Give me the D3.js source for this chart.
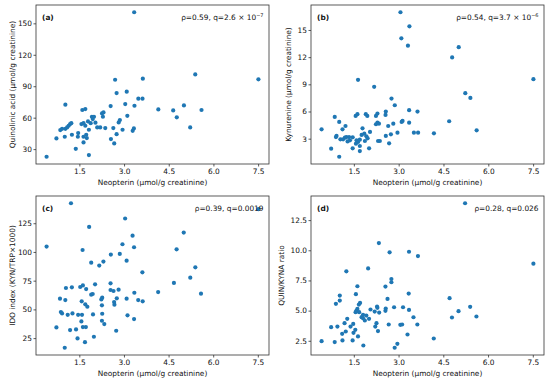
<!DOCTYPE html>
<html>
<head>
<meta charset="utf-8">
<script src="https://cdn.jsdelivr.net/npm/d3@7"></script>
<style>
  body { margin: 0; background: #fff; }
  text { font-family: "DejaVu Sans", sans-serif; }
</style>
</head>
<body>
<svg id="chart" width="550" height="383"></svg>
<script>
// neopterin vs. the four kynurenine-pathway measures
const neoA = [2.70,2.75,3.63,3.09,3.48,3.62,1.03,2.55,3.04,3.35,4.15,4.65,1.60,1.70,2.26,2.31,1.92,1.99,2.29,3.11,
  1.95,1.79,1.57,1.64,1.70,1.88,2.04,2.10,2.20,2.37,2.82,2.86,2.64,2.95,3.29,3.33,2.75,2.56,2.67,0.86,
  0.92,1.03,1.09,1.14,1.19,1.23,1.01,1.25,1.46,1.45,1.64,1.73,1.64,1.38,1.82,0.73,0.40,3.34,7.51,5.39,
  5.01,5.60,4.77,5.22,1.82,1.75];
const quinA = [96.2,83.5,97.2,84.8,78.1,78.1,72.4,71.1,73.0,71.4,67.9,66.9,67.3,68.2,64.1,65.0,60.9,60.9,60.9,61.8,
  58.7,56.4,53.9,54.8,52.3,54.8,55.2,50.7,50.7,50.1,55.5,57.7,50.1,48.5,47.5,49.7,44.3,39.6,35.4,48.2,
  49.4,49.4,50.7,52.3,53.9,54.8,41.8,43.7,45.3,41.8,41.8,43.7,36.4,30.3,24.3,40.2,22.7,160.6,96.6,101.3,
  71.7,67.3,60.3,50.7,48.5,40.5];

const neoB = [1.64,2.18,2.76,2.87,3.35,3.63,0.86,1.56,1.62,1.90,1.95,2.24,2.29,2.57,2.56,1.01,1.22,1.12,0.42,2.29,
  2.24,2.34,2.65,2.82,3.13,3.10,3.35,1.79,2.04,0.92,0.90,1.05,1.14,1.20,1.25,1.34,1.46,1.37,1.29,1.59,
  1.57,1.64,1.70,1.76,1.85,1.92,1.96,1.87,1.70,1.70,1.46,2.01,0.74,1.01,2.31,2.37,2.57,2.74,2.68,2.96,
  3.51,3.65,4.18,4.69,3.06,3.09,3.36,3.31,5.01,4.79,7.51,5.23,5.40,5.61];
const kynB = [9.50,8.72,7.43,6.69,6.14,5.99,5.40,5.51,5.70,5.70,5.51,5.51,5.77,5.99,5.62,4.85,4.40,4.03,4.03,4.77,
  4.59,4.66,4.40,4.66,4.96,4.85,4.77,4.14,3.74,3.30,3.18,2.93,2.93,3.11,3.18,3.18,3.15,2.82,2.70,2.82,
  2.45,2.63,2.89,3.41,3.55,3.26,3.04,2.74,2.19,1.63,1.93,1.93,1.89,1.00,2.74,2.74,3.30,3.48,2.48,3.66,
  3.66,3.66,3.59,4.92,16.96,14.08,15.40,13.27,13.10,11.97,9.57,8.02,7.50,3.92];

const neoC = [1.22,3.04,1.83,0.40,3.29,2.95,3.34,1.61,2.56,2.86,3.09,1.90,2.31,2.17,3.62,1.05,1.25,1.53,1.62,1.73,
  2.03,1.90,1.95,2.55,2.55,2.65,2.82,3.35,4.15,2.76,2.24,2.27,3.09,3.48,3.63,2.67,2.68,0.85,1.03,1.58,
  1.70,1.77,2.26,0.88,0.92,1.11,1.27,1.46,1.59,1.96,2.27,1.57,2.26,2.34,3.12,3.34,0.73,1.19,1.39,1.62,
  1.72,2.74,1.44,1.69,1.99,1.01,5.01,4.77,4.68,5.23,5.40,5.59,7.52];
const idoC = [142.4,129.1,121.8,104.7,114.2,106.7,104.1,101.7,97.7,98.3,92.4,90.7,91.6,88.1,82.3,68.6,69.2,69.5,70.9,67.7,
  71.8,62.8,63.4,72.7,66.9,66.0,67.2,64.5,65.1,59.6,58.7,60.2,59.3,58.1,57.0,56.4,54.1,59.3,58.1,57.0,
  54.4,52.3,53.5,47.7,46.5,45.3,46.5,45.3,45.3,45.6,46.2,39.5,40.1,37.2,44.8,41.6,34.3,32.0,32.6,34.6,
  34.6,31.4,24.7,21.5,26.2,16.6,116.9,102.3,73.0,77.6,86.6,63.7,137.2];

const neoD = [2.70,3.35,3.65,1.25,1.98,2.76,2.76,1.62,2.56,1.57,3.34,1.03,1.03,0.90,2.63,1.71,1.67,1.62,1.59,1.56,
  1.68,1.81,1.76,1.92,2.01,1.81,1.87,2.06,2.20,2.28,2.29,2.35,2.57,2.56,2.85,3.15,3.35,3.50,2.26,2.22,
  2.31,2.67,3.06,3.12,3.63,3.30,1.28,1.19,0.95,0.74,1.11,1.23,1.39,1.48,1.55,1.49,1.64,1.12,0.86,0.42,
  1.46,1.82,2.87,2.96,4.18,2.34,5.23,7.52,4.71,5.01,5.40,5.61,4.79];
const ratioD = [9.83,9.88,9.52,8.26,8.50,7.62,7.35,7.02,6.99,6.36,6.41,6.25,5.83,5.56,5.97,5.64,5.50,5.14,5.01,4.87,
  4.87,4.65,4.46,4.59,4.32,4.37,4.18,5.09,4.92,5.34,5.23,4.84,5.17,4.98,5.28,5.28,5.06,4.45,3.96,3.68,
  3.30,3.85,3.82,3.85,3.85,3.02,4.32,3.96,3.68,3.63,3.08,3.27,3.68,3.90,3.41,3.16,2.86,2.53,2.39,2.47,
  2.53,2.11,1.92,2.25,2.69,10.60,13.90,8.89,6.03,4.95,5.31,4.51,4.43];

const xTicks = [1.5, 3.0, 4.5, 6.0, 7.5];
const yTicksA = [30, 60, 90, 120, 150];
const yTicksB = [3, 6, 9, 12, 15];
const yTicksC = [25, 50, 75, 100, 125];
const yTicksD = [2.5, 5.0, 7.5, 10.0, 12.5];

const panelTags = ["(a)", "(b)", "(c)", "(d)"];
const yLabels = ["Quinolinic acid (\u03bcmol/g creatinine)", "Kynurenine (\u03bcmol/g creatinine)",
  "IDO index (KYN/TRP\u00d71000)", "QUIN/KYNA ratio"];
const xLabel = "Neopterin (\u03bcmol/g creatinine)";
const stats = [["\u03c1=0.59, q=2.6 \u00d7 10", "\u22127"], ["\u03c1=0.54, q=3.7 \u00d7 10", "\u22126"],
  ["\u03c1=0.39, q=0.0019", ""], ["\u03c1=0.28, q=0.026", ""]];

const panels = [
  {xs: neoA, ys: quinA, yTicks: yTicksA, yFmt: d3.format("d"), left: 36, top: 5, labelDx: -21.5},
  {xs: neoB, ys: kynB, yTicks: yTicksB, yFmt: d3.format("d"), left: 311, top: 5, labelDx: -20.5},
  {xs: neoC, ys: idoC, yTicks: yTicksC, yFmt: d3.format("d"), left: 36, top: 196, labelDx: -21.5},
  {xs: neoD, ys: ratioD, yTicks: yTicksD, yFmt: d3.format(".1f"), left: 311, top: 196, labelDx: -27.5}
];

const w = 233, h = 159;
const fs = 7.4;
const ink = "#111";
const svg = d3.select("#chart");

// matplotlib-style 5% margins
function padded(vals) {
  const [lo, hi] = d3.extent(vals);
  const m = (hi - lo) * 0.05;
  return [lo - m, hi + m];
}

panels.forEach((p, i) => {
  const g = svg.append("g").attr("transform", `translate(${p.left},${p.top})`);

  const x = d3.scaleLinear().domain(padded(p.xs)).range([0, w]);
  const y = d3.scaleLinear().domain(padded(p.ys)).range([h, 0]);

  const xAxis = g.append("g")
      .attr("transform", `translate(0,${h})`)
      .call(d3.axisBottom(x).tickValues(xTicks).tickFormat(d3.format(".1f")).tickSize(2.5).tickPadding(2));
  const yAxis = g.append("g")
      .call(d3.axisLeft(y).tickValues(p.yTicks).tickFormat(p.yFmt).tickSize(2.5).tickPadding(1.5));

  [xAxis, yAxis].forEach(a => {
    a.select(".domain").remove();
    a.selectAll("line").attr("stroke", "#333").attr("stroke-width", 0.8);
    a.selectAll("text").attr("font-size", fs).attr("fill", ink)
        .attr("font-family", "DejaVu Sans, sans-serif");
  });

  g.append("rect")
      .attr("width", w).attr("height", h)
      .attr("fill", "none").attr("stroke", "#333").attr("stroke-width", 0.8);

  g.append("g")
    .selectAll("circle")
    .data(d3.range(p.xs.length))
    .join("circle")
      .attr("cx", k => x(p.xs[k]))
      .attr("cy", k => y(p.ys[k]))
      .attr("r", 2.1)
      .attr("fill", "#1f77b4");

  g.append("text")
      .attr("x", 6).attr("y", 14.5)
      .attr("font-size", fs).attr("font-weight", "bold").attr("fill", ink)
      .text(panelTags[i]);

  const st = g.append("text")
      .attr("x", w - 5.5).attr("y", 14.5)
      .attr("text-anchor", "end")
      .attr("font-size", fs).attr("fill", ink);
  st.append("tspan").text(stats[i][0]);
  if (stats[i][1]) {
    st.append("tspan").attr("dy", -3).attr("font-size", 5).text(stats[i][1]);
  }

  g.append("text")
      .attr("x", w / 2).attr("y", h + 20.5)
      .attr("text-anchor", "middle")
      .attr("font-size", fs).attr("fill", ink)
      .text(xLabel);

  g.append("text")
      .attr("transform", `translate(${p.labelDx},${h / 2}) rotate(-90)`)
      .attr("text-anchor", "middle")
      .attr("font-size", fs).attr("fill", ink)
      .text(yLabels[i]);
});
</script>
</body>
</html>
